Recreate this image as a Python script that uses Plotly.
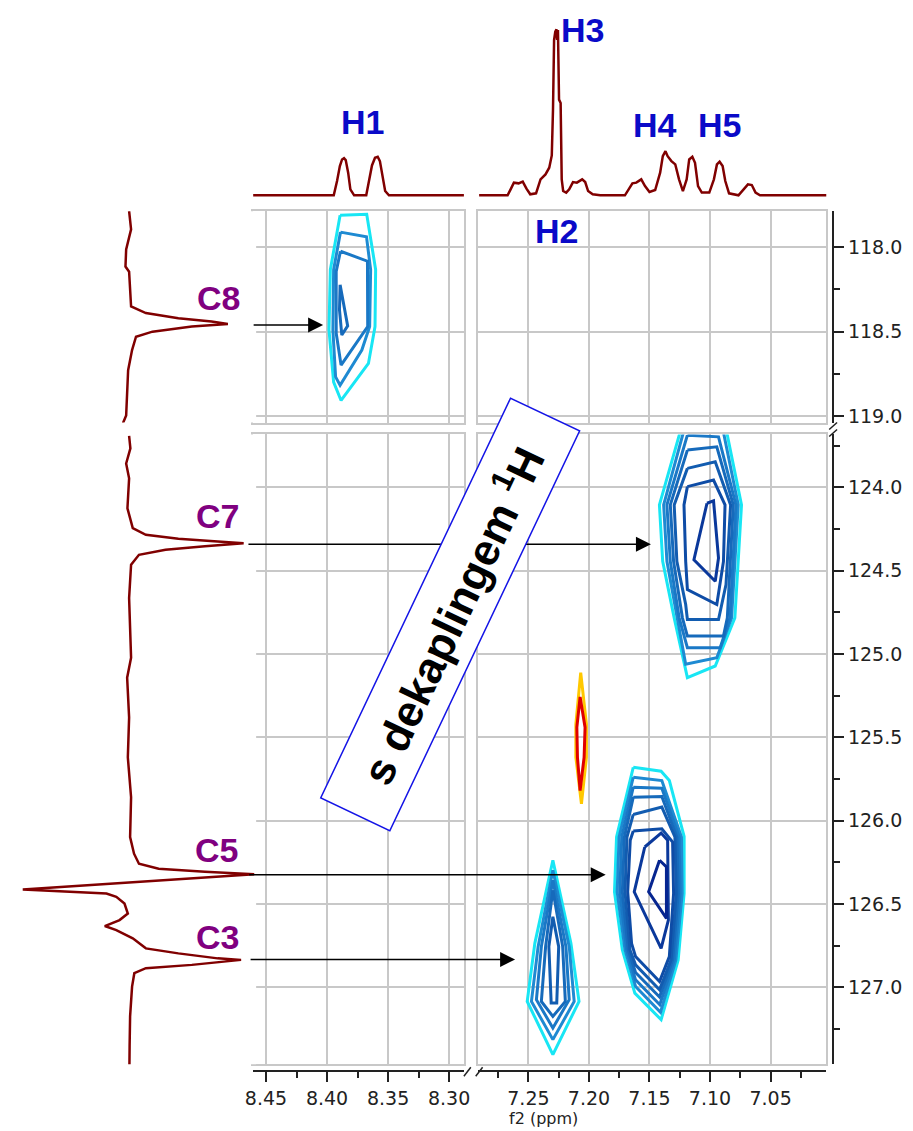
import plotly.graph_objects as go

# ---------------- DATA ----------------
# 1H projection on top: f2 (ppm) vs intensity (a.u.)
H_LEFT_PPM = [8.461, 8.3945, 8.3918, 8.3895, 8.3877, 8.3861, 8.3847, 8.3827, 8.3809, 8.3778,
              8.3679, 8.3654, 8.3632, 8.3607, 8.3585, 8.3567, 8.3545, 8.3524, 8.3493, 8.2855]
H_LEFT_INT = [0, 0, 14.3, 29.3, 36, 37.3, 35.3, 22.7, 6, 0,
              0, 14.3, 30, 37.7, 38.7, 34.3, 19.3, 4.3, 0, 0]
H_RIGHT_PPM = [7.2907, 7.2672, 7.2647, 7.2620, 7.2581, 7.2547, 7.2516, 7.2485, 7.2437, 7.2400,
               7.2359, 7.2328, 7.2307, 7.2297, 7.2288, 7.2278, 7.2268, 7.2263, 7.2256, 7.2247,
               7.2234, 7.2225, 7.2213, 7.2188, 7.2163, 7.2132, 7.2100, 7.2056, 7.2031, 7.2007,
               7.1969, 7.1907, 7.1703, 7.1672, 7.1641, 7.1609, 7.1568, 7.1537, 7.1500, 7.1453,
               7.1412, 7.1390, 7.1368, 7.1350, 7.1319, 7.1287, 7.1256, 7.1224, 7.1193, 7.1172,
               7.1146, 7.1124, 7.1099, 7.1068, 7.1006, 7.0968, 7.0943, 7.0921, 7.0896, 7.0874,
               7.0843, 7.0765, 7.0724, 7.0687, 7.0655, 7.0624, 7.0587, 7.0005]
H_RIGHT_INT = [0, 0, 6, 12.7, 12, 13.7, 6.7, 1, 2, 16,
               21, 27.7, 40, 86, 156, 164.3, 166.7, 156, 166, 96,
               92.7, 16, 4.3, 2.7, 6, 13.3, 12.7, 16, 13.3, 4.3,
               1, 0, 0, 6, 12, 12.7, 16, 9.3, 3.3, 5.3,
               22.7, 39.3, 44.3, 39.3, 34.3, 31, 16, 4.3, 16, 36,
               38.7, 32.7, 9.3, 2.7, 2.7, 16, 31, 33.7, 29.3, 14.3,
               2, 0, 6, 11, 10.3, 2.7, 0, 0]

# 13C projection on the left: f1 (ppm) vs intensity (a.u.)
C_TOP_PPM = [117.786, 117.895, 118.014, 118.115, 118.145, 118.252, 118.293, 118.351, 118.390, 118.420,
             118.440, 118.454, 118.470, 118.500, 118.530, 118.609, 118.728, 118.907, 118.996, 119.038, 119.055]
C_TOP_INT = [0, 2, -3, -3.7, 0, 1, 2, 2, 17, 50,
             83.7, 100.3, 63.7, 23.7, 7, 3, -1, -2, -3, -6, -6]
C_BOT_PPM = [123.691, 123.767, 123.857, 123.946, 124.126, 124.245, 124.285, 124.309, 124.325, 124.335,
             124.354, 124.375, 124.405, 124.464, 124.664, 125.022, 125.142, 125.381, 125.620, 125.859,
             126.098, 126.198, 126.258, 126.288, 126.307, 126.321, 126.413, 126.421, 126.437, 126.457,
             126.497, 126.557, 126.596, 126.632, 126.656, 126.706, 126.766, 126.796, 126.826, 126.835,
             126.865, 126.885, 126.915, 126.995, 127.174, 127.353, 127.473]
C_BOT_INT = [0, 1.3, -3, 0, -1.7, 3.7, 17, 50, 90, 116.3,
             77, 37, 10, 2, 0, 2, -2, 0, -1.3, 2,
             1, 5, 10, 30, 77, 127, -108, -79.7, -23, -13,
             -4.7, -1.3, -9.7, -24.7, -13, 3.7, 17, 50, 90, 113.7,
             63.7, 17, 5.3, 3, 1, 0.5, 0.3]

# 2D contour levels (outer -> inner), vertices (f2 ppm, f1 ppm)
C8_RINGS = [
    ([8.3893, 8.3675, 8.3602, 8.3607, 8.3661, 8.3885, 8.3946, 8.3984, 8.3973],
     [117.811, 117.805, 118.133, 118.470, 118.688, 118.907, 118.798, 118.490, 118.133]),
    ([8.3890, 8.3677, 8.3643, 8.3651, 8.3715, 8.3893, 8.3930, 8.3952, 8.3946],
     [117.911, 117.938, 118.133, 118.470, 118.609, 118.817, 118.768, 118.490, 118.133]),
    ([8.3890, 8.3669, 8.3667, 8.3885, 8.3925, 8.3925],
     [118.024, 118.083, 118.470, 118.698, 118.510, 118.143]),
    ([8.3893, 8.3831, 8.3879, 8.3898],
     [118.222, 118.466, 118.520, 118.371]),
]
C7_RINGS = [
    ([7.1228, 7.1418, 7.1391, 7.1296, 7.1187, 7.0957, 7.0795, 7.0740, 7.0876],
     [123.62, 124.1056, 124.4443, 124.7831, 125.1417, 125.0720, 124.7831, 124.1056, 123.62]),
    ([7.1201, 7.1383, 7.1356, 7.1274, 7.1201, 7.0944, 7.0822, 7.0767, 7.0903],
     [123.62, 124.1056, 124.4443, 124.7831, 125.0620, 125.0222, 124.7831, 124.1056, 123.62]),
    ([7.1187, 7.1356, 7.1328, 7.1255, 7.1187, 7.0916, 7.0835, 7.0786, 7.0930],
     [123.6872, 124.1056, 124.4443, 124.7831, 124.9624, 124.9624, 124.7831, 124.1056, 123.6972]),
    ([7.1187, 7.1328, 7.1301, 7.1228, 7.1187, 7.0889, 7.0857, 7.0808, 7.0944],
     [123.7769, 124.1056, 124.4443, 124.7831, 124.8926, 124.8926, 124.7831, 124.1056, 123.7570]),
    ([7.1187, 7.1296, 7.1274, 7.1201, 7.1187, 7.0930, 7.0868, 7.0830, 7.0957],
     [123.8865, 124.1056, 124.4443, 124.7034, 124.7930, 124.7930, 124.5838, 124.1056, 123.8466]),
    ([7.1187, 7.1215, 7.1201, 7.1187, 7.0944, 7.0889, 7.0876, 7.0971],
     [123.9961, 124.1056, 124.4443, 124.6137, 124.7034, 124.4443, 124.1056, 123.9562]),
    ([7.1025, 7.0971, 7.0930, 7.0957, 7.1133],
     [124.0957, 124.0817, 124.4244, 124.5639, 124.4344]),
]
C5_RINGS = [
    ([7.1634, 7.1404, 7.1336, 7.1214, 7.1214, 7.1263, 7.1404, 7.1621, 7.1724, 7.1789, 7.1772],
     [125.6796, 125.7035, 125.7593, 126.0940, 126.4367, 126.8352, 127.1938, 127.0344, 126.7754, 126.4268, 126.0980]),
    ([7.1634, 7.1398, 7.1236, 7.1230, 7.1282, 7.1409, 7.1615, 7.1702, 7.1767, 7.1751],
     [125.7394, 125.7593, 126.0980, 126.4367, 126.8352, 127.1500, 126.9946, 126.7754, 126.4268, 126.0980]),
    ([7.1634, 7.1398, 7.1255, 7.1247, 7.1295, 7.1415, 7.1615, 7.1688, 7.1745, 7.1729],
     [125.7991, 125.8051, 126.0980, 126.4367, 126.8352, 127.1042, 126.9548, 126.7754, 126.4268, 126.0980]),
    ([7.1634, 7.1398, 7.1274, 7.1263, 7.1309, 7.1417, 7.1615, 7.1675, 7.1724, 7.1707],
     [125.8589, 125.8549, 126.0980, 126.4367, 126.8352, 127.0583, 126.9109, 126.7754, 126.4268, 126.0980]),
    ([7.1634, 7.1398, 7.1290, 7.1279, 7.1322, 7.1417, 7.1615, 7.1661, 7.1702, 7.1686],
     [125.9625, 125.9187, 126.0980, 126.4367, 126.8352, 127.0145, 126.8651, 126.7754, 126.4268, 126.0980]),
    ([7.1634, 7.1398, 7.1309, 7.1301, 7.1336, 7.1417, 7.1615, 7.1648, 7.1680, 7.1659],
     [126.0621, 126.0482, 126.1279, 126.4367, 126.8153, 126.9647, 126.8153, 126.7356, 126.4268, 126.1179]),
    ([7.1539, 7.1404, 7.1350, 7.1344, 7.1404, 7.1626],
     [126.1578, 126.0741, 126.1179, 126.5961, 126.7655, 126.4268]),
    ([7.1417, 7.1360, 7.1360, 7.1507],
     [126.2375, 126.2773, 126.5861, 126.4268]),
]
C3_RINGS = [
    ([7.2298, 7.2149, 7.2082, 7.2298, 7.2510, 7.2447],
     [126.2375, 126.7356, 127.0843, 127.4031, 127.0843, 126.7356]),
    ([7.2298, 7.2163, 7.2122, 7.2298, 7.2475, 7.2420],
     [126.2973, 126.7555, 127.0843, 127.3134, 127.0843, 126.7555]),
    ([7.2298, 7.2190, 7.2163, 7.2298, 7.2434, 7.2393],
     [126.3570, 126.7555, 127.0743, 127.2437, 127.0743, 126.7555]),
    ([7.2298, 7.2217, 7.2195, 7.2298, 7.2393, 7.2358],
     [126.4168, 126.7555, 127.0843, 127.1739, 127.0843, 126.7555]),
    ([7.2298, 7.2250, 7.2266, 7.2312, 7.2331],
     [126.5762, 126.7555, 127.0942, 127.0942, 126.7555]),
]
NEG_RINGS = [
    ([7.2068, 7.2021, 7.2021, 7.2062, 7.2108, 7.2108],
     [125.1118, 125.4206, 125.6198, 125.8988, 125.6198, 125.4206]),
    ([7.2073, 7.2032, 7.2040, 7.2073, 7.2095, 7.2100],
     [125.2572, 125.4405, 125.6198, 125.8191, 125.6198, 125.4405]),
]

# labels
H_LABELS = ["H1", "H2", "H3", "H4", "H5"]
C_LABELS = ["C8", "C7", "C5", "C3"]
# arrow tips (f2 ppm, f1 ppm) for each carbon label
ARROW_F2 = [8.4032, 7.1488, 7.1862, 7.2610]
ARROW_F1 = [118.460, 124.341, 126.325, 126.833]
X_TICKS_LEFT = [8.45, 8.40, 8.35, 8.30]
X_TICKS_RIGHT = [7.25, 7.20, 7.15, 7.10, 7.05]

# ---------------- LAYOUT HELPERS ----------------
W, H = 913, 1131
def px(v):
    return v / W
def py(v):
    return 1 - v / H

X_LEFT_RANGE = [8.4605, 8.2879]
X_RIGHT_RANGE = [7.2919, 7.0040]
Y_TOP_RANGE = [119.0375, 117.7875]
Y_BOT_RANGE = [127.461, 123.683]
XD_LEFT = [px(249), px(463)]
XD_RIGHT = [px(477), px(831)]
YD_TOP = [py(424), py(212)]
YD_BOT = [py(1068), py(436)]

SPEC = "#800000"
BLUES = ["#18E6F4", "#1E8AD2", "#1A78C6", "#166ABB", "#125CB0", "#0E4CA6", "#0A389B", "#062590"]

fig = go.Figure()

def add_rings(rings, xa, ya, colors):
    for i, (xs, ys) in enumerate(rings):
        fig.add_trace(go.Scatter(x=xs + xs[:1], y=ys + ys[:1], mode="lines",
                                 line=dict(color=colors[i], width=3),
                                 xaxis=xa, yaxis=ya, hoverinfo="skip"))

# make sure all four panels exist
for xa, ya in [("x", "y"), ("x2", "y"), ("x", "y2"), ("x2", "y2"),
               ("x3", "y2"), ("x4", "y2"), ("x2", "y3"), ("x2", "y4")]:
    fig.add_trace(go.Scatter(x=[], y=[], xaxis=xa, yaxis=ya, hoverinfo="skip"))

add_rings(C8_RINGS, "x", "y", BLUES)
add_rings(C7_RINGS, "x2", "y2", BLUES)
add_rings(C5_RINGS, "x2", "y2", BLUES)
add_rings(C3_RINGS, "x2", "y2", BLUES)
add_rings(NEG_RINGS, "x2", "y2", ["#FFC800", "#E00000"])

# projections
fig.add_trace(go.Scatter(x=H_LEFT_PPM, y=H_LEFT_INT, mode="lines", line=dict(color=SPEC, width=2.5),
                         xaxis="x5", yaxis="y5", hoverinfo="skip"))
fig.add_trace(go.Scatter(x=H_RIGHT_PPM, y=H_RIGHT_INT, mode="lines", line=dict(color=SPEC, width=2.5),
                         xaxis="x6", yaxis="y5", hoverinfo="skip"))
fig.add_trace(go.Scatter(x=C_TOP_INT, y=C_TOP_PPM, mode="lines", line=dict(color=SPEC, width=2.5),
                         xaxis="x7", yaxis="y6", hoverinfo="skip"))
fig.add_trace(go.Scatter(x=C_BOT_INT, y=C_BOT_PPM, mode="lines", line=dict(color=SPEC, width=2.5),
                         xaxis="x7", yaxis="y7", hoverinfo="skip"))

GRID = "#C8C8C8"
panel = dict(showgrid=True, gridcolor=GRID, gridwidth=2, zeroline=False, showline=True,
             linecolor=GRID, linewidth=2, mirror="all", ticks="", showticklabels=False)
AX = "#222222"
tickax = dict(showgrid=False, zeroline=False, showline=True, linecolor=AX, linewidth=2,
              ticks="outside", ticklen=10, tickwidth=2, tickcolor=AX,
              tickfont=dict(family="DejaVu Sans", size=19, color=AX))
hidden = dict(visible=False, showgrid=False, zeroline=False)

fig.update_layout(
    width=W, height=H, margin=dict(l=0, r=0, t=0, b=0),
    paper_bgcolor="white", plot_bgcolor="white", showlegend=False, hovermode=False,
    xaxis=dict(domain=XD_LEFT, range=X_LEFT_RANGE, tick0=0, dtick=0.05, anchor="y", **panel),
    xaxis2=dict(domain=XD_RIGHT, range=X_RIGHT_RANGE, tick0=0, dtick=0.05, anchor="y", **panel),
    yaxis=dict(domain=YD_TOP, range=Y_TOP_RANGE, tick0=0, dtick=0.5, anchor="x", **panel),
    yaxis2=dict(domain=YD_BOT, range=Y_BOT_RANGE, tick0=0, dtick=0.5, anchor="x", **panel),
    xaxis3=dict(overlaying="x", anchor="free", position=py(1075), range=X_LEFT_RANGE,
                tickmode="array", tickvals=X_TICKS_LEFT, tickformat=".2f",
                minor=dict(tickmode="array", tickvals=[8.425, 8.375, 8.325], ticks="outside",
                           ticklen=6, tickwidth=2, tickcolor=AX, showgrid=False), **tickax),
    xaxis4=dict(overlaying="x2", anchor="free", position=py(1075), range=X_RIGHT_RANGE,
                tickmode="array", tickvals=X_TICKS_RIGHT, tickformat=".2f",
                minor=dict(tick0=0, dtick=0.025, ticks="outside",
                           ticklen=6, tickwidth=2, tickcolor=AX, showgrid=False), **tickax),
    yaxis3=dict(overlaying="y", anchor="free", position=px(838), side="right", range=Y_TOP_RANGE,
                tick0=0, dtick=0.5, tickformat=".1f",
                minor=dict(tick0=0, dtick=0.25, ticks="outside", ticklen=6, tickwidth=2,
                           tickcolor=AX, showgrid=False), **tickax),
    yaxis4=dict(overlaying="y2", anchor="free", position=px(838), side="right", range=Y_BOT_RANGE,
                tick0=0, dtick=0.5, tickformat=".1f",
                minor=dict(tick0=0, dtick=0.25, ticks="outside", ticklen=6, tickwidth=2,
                           tickcolor=AX, showgrid=False), **tickax),
    xaxis5=dict(domain=XD_LEFT, range=X_LEFT_RANGE, anchor="y5", **hidden),
    xaxis6=dict(domain=XD_RIGHT, range=X_RIGHT_RANGE, anchor="y5", **hidden),
    yaxis5=dict(domain=[py(205), py(15)], range=[-9, 181], anchor="x5", **hidden),
    xaxis7=dict(domain=[0, px(252)], range=[-123, 129], anchor="y6", **hidden),
    yaxis6=dict(domain=YD_TOP, range=Y_TOP_RANGE, anchor="x7", **hidden),
    yaxis7=dict(domain=YD_BOT, range=Y_BOT_RANGE, anchor="x7", **hidden),
)

annotations = []
# arrows from the 13C projection into the 2D map
arrow_axes = [("x", "y"), ("x2", "y2"), ("x2", "y2"), ("x2", "y2")]
tip_px = [320, 653, 607, 515]
for (xa, ya), fx, fy, tp in zip(arrow_axes, ARROW_F2, ARROW_F1, tip_px):
    annotations.append(dict(x=fx, y=fy, xref=xa, yref=ya, text="", showarrow=True,
                            ax=-(tp - 249), ay=0, axref="pixel", ayref="pixel",
                            arrowhead=2, arrowsize=2.0, arrowwidth=1.5, arrowcolor="black",
                            standoff=0))

LABFONT = "Liberation Sans, Arial, sans-serif"
h_pos = [(360, 122), (557, 232), (583, 30), (657, 125), (723, 125)]
for lab, (xx, yy) in zip(H_LABELS, h_pos):
    annotations.append(dict(x=px(xx), y=py(yy), xref="paper", yref="paper", text=f"<b>{lab}</b>",
                            showarrow=False, xanchor="center", yanchor="middle",
                            font=dict(family=LABFONT, size=34, color="#0A0AC8")))
c_pos = [(214, 299), (213, 518), (212, 853), (213, 940)]
for lab, (xx, yy) in zip(C_LABELS, c_pos):
    annotations.append(dict(x=px(xx), y=py(yy), xref="paper", yref="paper", text=f"<b>{lab}</b>",
                            showarrow=False, xanchor="center", yanchor="middle",
                            font=dict(family=LABFONT, size=34, color="#800080")))

annotations.append(dict(x=px(544), y=py(1122), xref="paper", yref="paper", text="f2 (ppm)",
                        showarrow=False, xanchor="center", yanchor="middle",
                        font=dict(family="DejaVu Sans", size=16, color=AX)))

# rotated boxed caption
annotations.append(dict(x=px(448.5), y=py(616.75), xref="paper", yref="paper",
                        text="<b>s dekaplingem <sup>1</sup>H</b>", showarrow=False,
                        textangle=-64.6, width=441, height=75, align="center", valign="middle",
                        bgcolor="white", bordercolor="#1414E6", borderwidth=1.5, borderpad=0,
                        xanchor="center", yanchor="middle",
                        font=dict(family=LABFONT, size=44, color="black")))
fig.update_layout(annotations=annotations)

# axis break marks
shapes = []
for (x0, y0, x1, y1) in [(463, 1080, 470, 1071), (475, 1080, 482, 1071),
                         (834, 431, 842, 424), (834, 438, 842, 431)]:
    shapes.append(dict(type="line", xref="paper", yref="paper", x0=px(x0), y0=py(y0),
                       x1=px(x1), y1=py(y1), line=dict(color=AX, width=1.5)))
fig.update_layout(shapes=shapes)

fig.write_html("out.html", config={"displayModeBar": False},
               post_script="document.body.style.margin='0';document.body.style.overflow='hidden';")
